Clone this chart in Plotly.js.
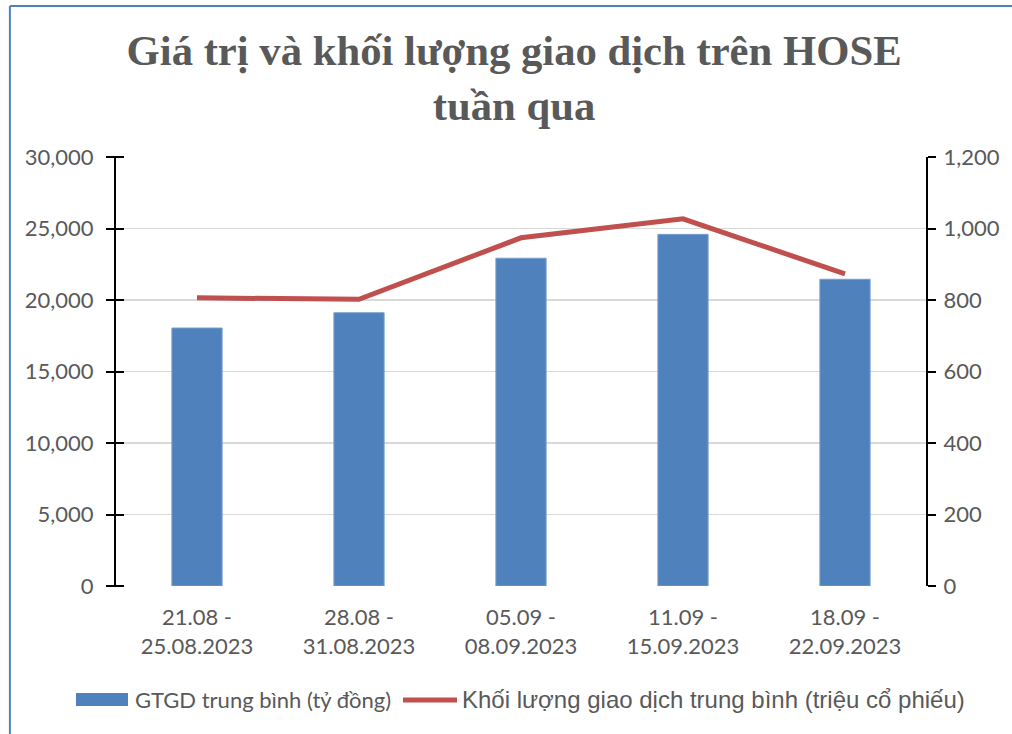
<!DOCTYPE html>
<html>
<head>
<meta charset="utf-8">
<script src="https://cdn.plot.ly/plotly-3.0.1.min.js"></script>
<style>
html,body{margin:0;padding:0;background:#fff;}
#chart{width:1012px;height:734px;}
</style>
</head>
<body>
<div id="chart"></div>
<script>
const categories = ["21.08 -<br>25.08.2023", "28.08 -<br>31.08.2023", "05.09 -<br>08.09.2023", "11.09 -<br>15.09.2023", "18.09 -<br>22.09.2023"];
const valueBillion = [18040, 19110, 22920, 24590, 21450];
const volumeMillion = [806, 802, 974, 1027, 873];
const leftTicks = [0, 5000, 10000, 15000, 20000, 25000, 30000];
const rightTicks = [0, 200, 400, 600, 800, 1000, 1200];
const seriesNames = ["GTGD trung bình (tỷ đồng)", "Khối lượng giao dịch trung bình (triệu cổ phiếu)"];

const grey = "#595959";
const barColor = "#4F81BD";
const lineColor = "#C0504D";
const tickFont = {family: "Lato, 'Liberation Sans', sans-serif", size: 22, color: grey};

const traces = [
  {
    type: "bar", x: categories, y: valueBillion, name: seriesNames[0],
    marker: {color: barColor, line: {color: "#7A9FCC", width: 1}},
    yaxis: "y", hoverinfo: "skip"
  },
  {
    type: "scatter", mode: "lines", x: categories, y: volumeMillion, name: seriesNames[1],
    line: {color: lineColor, width: 5}, yaxis: "y2", hoverinfo: "skip"
  },
  {
    type: "scatter", mode: "none", x: categories, y: valueBillion,
    yaxis: "y3", showlegend: false, hoverinfo: "skip"
  }
];

const layout = {
  width: 1012, height: 734,
  paper_bgcolor: "#fff", plot_bgcolor: "#fff",
  margin: {l: 116, r: 86, t: 157, b: 148},
  title: {
    text: "Giá trị và khối lượng giao dịch trên HOSE<br>tuần qua",
    font: {family: "'Liberation Serif', 'Times New Roman', serif", size: 42.7, color: grey, weight: "bold"},
    x: 0.508, xanchor: "center", xref: "container", y: 0.912, yanchor: "top", yref: "container"
  },
  bargap: 0.69,
  showlegend: false,
  xaxis: {
    type: "category", showgrid: false, ticks: "", tickfont: tickFont,
    showline: false, zeroline: false, ticklabelstandoff: 16
  },
  yaxis: {
    range: [0, 30000], tickvals: leftTicks, tickformat: ",d",
    showgrid: true, gridcolor: "#d9d9d9", gridwidth: 1.5,
    showline: true, linecolor: "#000", linewidth: 2,
    ticks: "outside", ticklen: 8, tickwidth: 2, tickcolor: "#000",
    tickfont: tickFont, zeroline: false, ticklabelstandoff: 8
  },
  yaxis2: {
    range: [0, 1200], tickvals: rightTicks, tickformat: ",d",
    overlaying: "y", side: "right", showgrid: false,
    showline: true, linecolor: "#000", linewidth: 2,
    ticks: "outside", ticklen: 8, tickwidth: 2, tickcolor: "#000",
    tickfont: tickFont, zeroline: false, ticklabelstandoff: 3
  },
  yaxis3: {
    range: [0, 30000], tickvals: leftTicks, overlaying: "y", side: "left",
    anchor: "free", position: 0.0099,
    showgrid: false, showline: false, showticklabels: false, zeroline: false,
    ticks: "outside", ticklen: 16, tickwidth: 2, tickcolor: "#000"
  },
  shapes: [
    {type: "line", xref: "paper", yref: "paper", x0: -0.131, x1: 1.2, y0: 1.352, y1: 1.352, line: {color: barColor, width: 2}},
    {type: "line", xref: "paper", yref: "paper", x0: -0.131, x1: -0.131, y0: 1.352, y1: -0.4, line: {color: barColor, width: 2}},
    {type: "rect", xref: "paper", yref: "paper", x0: -0.0494, x1: 0.0148, y0: -0.2494, y1: -0.2797, fillcolor: barColor, line: {width: 0}},
    {type: "line", xref: "paper", yref: "paper", x0: 0.3543, x1: 0.421, y0: -0.2657, y1: -0.2657, line: {color: lineColor, width: 5}}
  ],
  annotations: [
    {xref: "paper", yref: "paper", x: 0.021, y: -0.2657, xanchor: "left", yanchor: "middle", showarrow: false,
     text: seriesNames[0], font: {family: "Lato, 'Liberation Sans', sans-serif", size: 22, color: grey}},
    {xref: "paper", yref: "paper", x: 0.4247, y: -0.2657, xanchor: "left", yanchor: "middle", showarrow: false,
     text: seriesNames[1], font: {family: "'Liberation Sans', Arial, sans-serif", size: 24, color: grey}}
  ]
};

Plotly.newPlot("chart", traces, layout, {displayModeBar: false, staticPlot: true});
</script>
</body>
</html>
